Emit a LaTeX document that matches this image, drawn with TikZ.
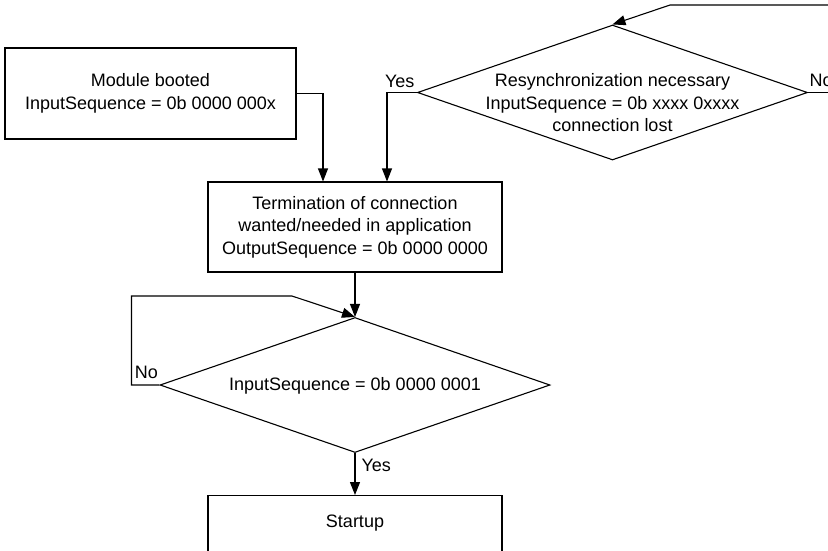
\documentclass[tikz,border=0pt]{standalone}
\usepackage{fontspec}
\setmainfont{Liberation Sans}
\usetikzlibrary{shapes.geometric, arrows.meta, positioning}

\begin{document}
\begin{tikzpicture}[x=1pt, y=-1pt, line width=1.1pt,
        every node/.style={font=\fontsize{18}{22.5}\selectfont},
        block/.style={draw, minimum width=294pt, minimum height=90pt, align=center, inner sep=0pt},
        decision/.style={draw, diamond, minimum width=390pt, minimum height=135pt, inner sep=0pt},
        flow/.style={-{Triangle[length=13pt, width=10pt]}}]
    \clip (0, 0) rectangle (828, 550);
    \node[block, minimum width=291pt, minimum height=91pt] (module) at (150.5, 93.5)
        {Module booted\\InputSequence = 0b 0000 000x};
    \node[decision] (resync) at (612.5, 92.5) {};
    \node[align=center] (resynctext) at (612.5, 103)
        {Resynchronization necessary\\InputSequence = 0b xxxx 0xxxx\\connection lost};
    \node[block] (term) at (355, 227)
        {Termination of connection\\wanted/needed in application\\OutputSequence = 0b 0000 0000};
    \node[decision] (check) at (355, 385) {};
    \node (checktext) at (355, 386) {InputSequence = 0b 0000 0001};
    \node[block, anchor=north, minimum height=56pt] (startup) at (355, 495) {Startup};
    \coordinate (feed) at (840, 5);
    \coordinate (exit) at (840, 92.5);

    \draw[flow] (feed) -- (670, 5) -- (resync.north);
    \draw (resync.east) -- node[pos=0, anchor=south west, inner xsep=1pt, inner ysep=5pt] {No} (exit);
    \draw[flow] (module.east) -| ([xshift=-32pt]term.north);
    \draw[flow] (resync.west) node[anchor=south east, inner xsep=2pt, inner ysep=4pt] {Yes}
        -| ([xshift=32pt]term.north);
    \draw[flow] (term.south) -- (check.north);
    \draw[flow] (check.west) node[anchor=south east, inner xsep=1pt, inner ysep=6pt] {No}
        -- ++(-28, 0) |- (292, 296) -- (check.north);
    \draw[flow] (check.south) -- node[pos=0.3, right, inner sep=6pt] {Yes} (startup.north);
\end{tikzpicture}
\end{document}
